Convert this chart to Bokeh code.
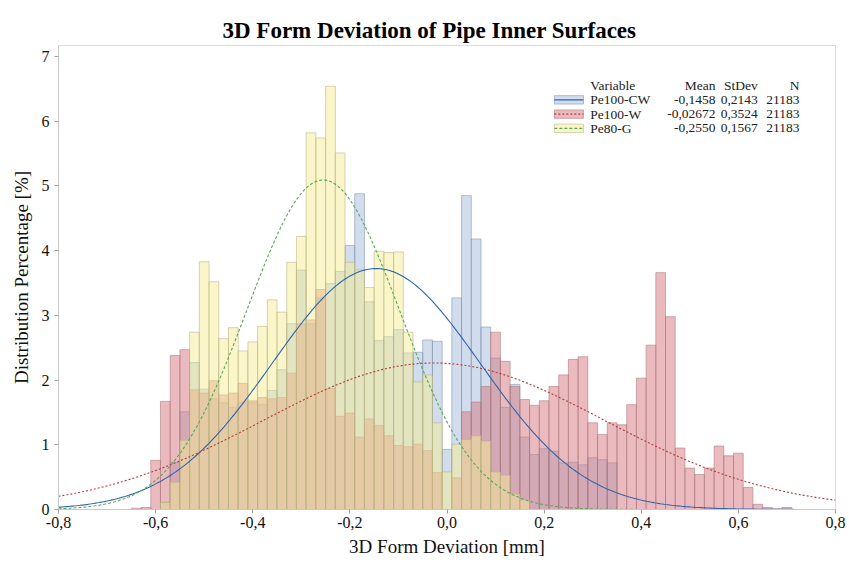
import numpy as np
from bokeh.plotting import figure
from bokeh.models import Range1d, FixedTicker, CustomJSTickFormatter, ColumnDataSource
from bokeh.embed import file_html
from bokeh.resources import INLINE
from bokeh.core.properties import value

# ---------------- data ----------------
bin_centers = [-0.64, -0.62, -0.60, -0.58, -0.56, -0.54, -0.52, -0.50, -0.48, -0.46,
               -0.44, -0.42, -0.40, -0.38, -0.36, -0.34, -0.32, -0.30, -0.28, -0.26,
               -0.24, -0.22, -0.20, -0.18, -0.16, -0.14, -0.12, -0.10, -0.08, -0.06,
               -0.04, -0.02, 0.00, 0.02, 0.04, 0.06, 0.08, 0.10, 0.12, 0.14,
               0.16, 0.18, 0.20, 0.22, 0.24, 0.26, 0.28, 0.30, 0.32, 0.34,
               0.36, 0.38, 0.40, 0.42, 0.44, 0.46, 0.48, 0.50, 0.52, 0.54,
               0.56, 0.58, 0.60, 0.62, 0.64, 0.66, 0.68, 0.70]
bin_width = 0.02

pe100_cw = [0.00, 0.00, 0.00, 0.11, 0.73, 1.51, 2.27, 1.86, 1.71, 1.65,
            1.58, 1.66, 1.66, 1.62, 1.84, 2.16, 2.87, 3.70, 2.87, 3.27,
            3.49, 3.68, 4.08, 4.88, 3.21, 2.61, 2.67, 2.78, 2.42, 2.43,
            2.62, 2.60, 0.93, 3.27, 4.85, 4.18, 2.82, 2.34, 1.58, 1.93,
            1.12, 0.85, 0.94, 0.90, 0.72, 0.73, 0.69, 0.80, 0.77, 0.72,
            0.00, 0.00, 0.00, 0.00, 0.00, 0.00, 0.00, 0.00, 0.00, 0.00,
            0.00, 0.00, 0.00, 0.00, 0.00, 0.00, 0.00, 0.00]

pe100_w = [0.02, 0.03, 0.76, 1.67, 2.38, 2.47, 1.85, 1.80, 1.99, 1.77,
           1.80, 1.95, 1.68, 1.73, 1.71, 1.73, 2.11, 2.87, 2.93, 3.40,
           1.87, 1.44, 1.49, 1.12, 1.40, 1.30, 1.14, 0.99, 0.97, 1.01,
           0.91, 0.57, 0.00, 0.49, 1.51, 1.66, 1.90, 2.74, 2.29, 1.90,
           1.70, 1.61, 1.68, 1.90, 2.08, 2.32, 2.36, 1.34, 1.16, 1.34,
           1.31, 1.62, 2.03, 2.54, 3.66, 2.98, 0.95, 0.64, 0.54, 0.64,
           0.98, 0.83, 0.87, 0.34, 0.08, 0.03, 0.01, 0.03]

pe80_g = [0.00, 0.00, 0.00, 0.11, 0.42, 1.07, 2.74, 3.83, 3.52, 2.64,
          2.81, 2.45, 2.59, 2.83, 3.24, 3.05, 3.82, 4.22, 5.82, 5.74,
          6.54, 5.51, 3.82, 3.70, 3.43, 3.99, 3.97, 3.98, 2.74, 1.97,
          2.08, 1.34, 0.58, 1.01, 1.08, 1.14, 1.06, 0.58, 0.53, 0.24,
          0.15, 0.00, 0.00, 0.00, 0.00, 0.00, 0.00, 0.00, 0.00, 0.00,
          0.00, 0.00, 0.00, 0.00, 0.00, 0.00, 0.00, 0.00, 0.00, 0.00,
          0.00, 0.00, 0.00, 0.00, 0.00, 0.00, 0.00, 0.00]

variables = ["Pe100-CW", "Pe100-W", "Pe80-G"]
means = [-0.1458, -0.02672, -0.2550]
stdevs = [0.2143, 0.3524, 0.1567]
counts = [21183, 21183, 21183]
mean_labels = ["-0,1458", "-0,02672", "-0,2550"]
stdev_labels = ["0,2143", "0,3524", "0,1567"]

x_ticks = [-0.8, -0.6, -0.4, -0.2, 0.0, 0.2, 0.4, 0.6, 0.8]
y_ticks = [0, 1, 2, 3, 4, 5, 6, 7]

# ---------------- styles ----------------
FONT = "Liberation Serif"
fills = ["#a3bbdc", "#d6767e", "#f6ed95"]
edges = ["#7d8fa8", "#a8787c", "#b8b080"]
curve_colors = ["#2f63ae", "#b23a3a", "#58a858"]
curve_dash = ["solid", "2 2", "3 2"]

p = figure(width=849, height=569, output_backend="svg", toolbar_location=None,
           x_range=Range1d(-0.8, 0.8), y_range=Range1d(0, 7.17),
           min_border_left=58, min_border_right=14, min_border_top=45, min_border_bottom=60)
p.background_fill_color = "white"
p.border_fill_color = "white"
p.outline_line_color = "#dcdcdc"
p.xgrid.visible = False
p.ygrid.visible = False

series = [pe100_cw, pe100_w, pe80_g]
lefts = [c - bin_width / 2 for c in bin_centers]
rights = [c + bin_width / 2 for c in bin_centers]
for vals, fc, ec in zip(series, fills, edges):
    src = ColumnDataSource(dict(left=lefts, right=rights, top=vals))
    p.quad(left="left", right="right", bottom=0, top="top", source=src,
           fill_color=fc, fill_alpha=0.5, line_color=ec, line_alpha=0.55, line_width=1)

# fitted normal curves from the legend's Mean / StDev (percent per bin)
xs = np.linspace(-0.8, 0.8, 400)
for m, s, col, dash in zip(means, stdevs, curve_colors, curve_dash):
    ys = 100 * bin_width * np.exp(-0.5 * ((xs - m) / s) ** 2) / (s * np.sqrt(2 * np.pi))
    p.line(xs, ys, line_color=col, line_width=1.1, line_dash=dash)

# axes
for ax in (p.xaxis[0], p.yaxis[0]):
    ax.axis_line_color = "#c8c8c8"
    ax.major_tick_line_color = "#a0a0a0"
    ax.minor_tick_line_color = None
    ax.major_tick_in = 0
    ax.major_tick_out = 4
    ax.major_label_text_font = FONT
    ax.major_label_text_font_size = "16px"
    ax.major_label_text_color = "#111111"
    ax.axis_label_text_font = FONT
    ax.axis_label_text_font_size = "19px"
    ax.axis_label_text_font_style = "normal"
    ax.axis_label_text_color = "#111111"

p.xaxis.ticker = FixedTicker(ticks=x_ticks)
p.xaxis.formatter = CustomJSTickFormatter(code="return tick.toFixed(1).replace('.', ',');")
p.xaxis.axis_label = "3D Form Deviation [mm]"
p.xaxis.major_label_standoff = 3
p.xaxis.axis_label_standoff = 5
p.yaxis.ticker = FixedTicker(ticks=y_ticks)
p.yaxis.axis_label = "Distribution Percentage [%]"
p.yaxis.major_label_standoff = 5
p.yaxis.axis_label_standoff = 7

p.title.text = "3D Form Deviation of Pipe Inner Surfaces"
p.title.text_font = FONT
p.title.text_font_size = "23px"
p.title.text_font_style = "bold"
p.title.text_color = "#000000"
p.title.align = "left"
p.title.offset = 164
p.title.standoff = 5

# ---------------- legend table ----------------
leg_name_x = 0.295
leg_mean_x = 0.553
leg_sd_x = 0.640
leg_n_x = 0.726
leg_header_y = 6.55
leg_rows_y = [6.33, 6.11, 5.89]
sw_x = 0.251
sw_w = 0.060
sw_h = 0.13
leg_font = "13.5px"

p.text(x=[leg_name_x], y=[leg_header_y], text=["Variable"], text_font=value(FONT),
       text_font_size=leg_font, text_baseline="middle", text_align="left", text_color="#222222")
p.text(x=[leg_mean_x, leg_sd_x, leg_n_x], y=[leg_header_y] * 3, text=["Mean", "StDev", "N"],
       text_font=value(FONT), text_font_size=leg_font, text_baseline="middle",
       text_align="right", text_color="#222222")
p.text(x=[leg_name_x] * 3, y=leg_rows_y, text=variables, text_font=value(FONT),
       text_font_size=leg_font, text_baseline="middle", text_align="left", text_color="#222222")
p.text(x=[leg_mean_x] * 3, y=leg_rows_y, text=mean_labels, text_font=value(FONT),
       text_font_size=leg_font, text_baseline="middle", text_align="right", text_color="#222222")
p.text(x=[leg_sd_x] * 3, y=leg_rows_y, text=stdev_labels, text_font=value(FONT),
       text_font_size=leg_font, text_baseline="middle", text_align="right", text_color="#222222")
p.text(x=[leg_n_x] * 3, y=leg_rows_y, text=[str(n) for n in counts], text_font=value(FONT),
       text_font_size=leg_font, text_baseline="middle", text_align="right", text_color="#222222")

for ry, fc, ec, col, dash in zip(leg_rows_y, fills, edges, curve_colors, curve_dash):
    p.rect(x=[sw_x], y=[ry], width=sw_w, height=sw_h, fill_color=fc, fill_alpha=0.5,
           line_color=ec, line_alpha=0.55)
    p.segment(x0=[sw_x - sw_w / 2], y0=[ry], x1=[sw_x + sw_w / 2], y1=[ry],
              line_color=col, line_width=1.1, line_dash=dash)

open("out.html", "w").write(file_html(p, INLINE))
